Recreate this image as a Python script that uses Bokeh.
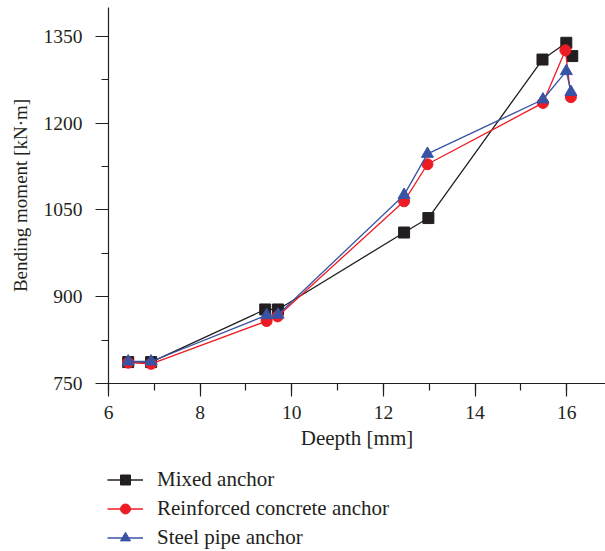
from bokeh.plotting import figure
from bokeh.layouts import column
from bokeh.models import Legend, LegendItem, SingleIntervalTicker, Range1d
from bokeh.embed import file_html
from bokeh.resources import INLINE

# Bending moment vs. depth for three anchor types
depth_mixed = [6.43, 6.93, 9.42, 9.70, 12.45, 12.98, 15.47, 15.99, 16.12]
moment_mixed = [787, 787, 878, 878, 1011, 1036, 1310, 1339, 1316]

depth_rc = [6.43, 6.93, 9.45, 9.69, 12.45, 12.96, 15.48, 15.97, 16.09]
moment_rc = [786, 784, 858, 866, 1065, 1129, 1235, 1326, 1245]

depth_steel = [6.43, 6.93, 9.45, 9.70, 12.45, 12.96, 15.48, 15.99, 16.09]
moment_steel = [788, 788, 868, 869, 1076, 1147, 1241, 1290, 1254]

series_names = ["Mixed anchor", "Reinforced concrete anchor", "Steel pipe anchor"]

FONT = "Liberation Serif"
INK = "#231f20"
COLORS = ["#231f20", "#ed1c24", "#3953a4"]
MARKERS = ["square", "circle", "triangle"]
SIZES = [11, 11, 12]

p = figure(frame_width=497, frame_height=376, output_backend="svg", toolbar_location=None,
           x_range=Range1d(6, 16.845), y_range=Range1d(750, 1400),
           min_border_left=108, min_border_right=0, min_border_top=7,
           min_border_bottom=72)
p.outline_line_color = None
p.xgrid.visible = False
p.ygrid.visible = False

for ax in (p.xaxis[0], p.yaxis[0]):
    ax.axis_line_color = INK
    ax.major_tick_line_color = INK
    ax.minor_tick_line_color = INK
    ax.axis_line_width = 1.2
    ax.major_tick_line_width = 1.2
    ax.minor_tick_line_width = 1.2
    ax.major_tick_in = 0
    ax.major_tick_out = 13
    ax.minor_tick_in = 0
    ax.minor_tick_out = 7
    ax.major_label_text_font = FONT
    ax.major_label_text_font_size = "19.5px"
    ax.major_label_text_color = INK
    ax.axis_label_text_font = FONT
    ax.axis_label_text_font_style = "normal"
    ax.axis_label_text_color = INK

p.xaxis.axis_label_text_font_size = "21px"
p.yaxis.axis_label_text_font_size = "19px"
p.xaxis.ticker = SingleIntervalTicker(interval=2, num_minor_ticks=2)
p.yaxis.ticker = SingleIntervalTicker(interval=150, num_minor_ticks=2)
p.xaxis.axis_label = "Deepth [mm]"
p.yaxis.axis_label = "Bending moment [kN·m]"
p.xaxis.major_label_standoff = 9
p.yaxis.major_label_standoff = 13
p.xaxis.axis_label_standoff = 4
p.yaxis.axis_label_standoff = 10

series = [(depth_mixed, moment_mixed), (depth_rc, moment_rc), (depth_steel, moment_steel)]
for (xs, ys), c, mk, sz in zip(series, COLORS, MARKERS, SIZES):
    p.line(xs, ys, color=c, line_width=1.3)
    p.scatter(xs, ys, marker=mk, size=sz, fill_color=c, line_color=c)

# legend strip underneath the chart; its handles reuse the series,
# which fall outside this strip's own (unit) ranges and so stay hidden
leg = figure(frame_width=605, frame_height=96, output_backend="svg", toolbar_location=None,
             x_range=Range1d(0, 1), y_range=Range1d(0, 1), min_border=0)
leg.outline_line_color = None
leg.axis.visible = False
leg.xgrid.visible = False
leg.ygrid.visible = False

items = []
for name, (xs, ys), c, mk in zip(series_names, series, COLORS, MARKERS):
    ln = leg.line(xs, ys, color=c, line_width=1.3)
    sc = leg.scatter(xs, ys, marker=mk, fill_color=c, line_color=c)
    items.append(LegendItem(label=name, renderers=[ln, sc]))

legend = Legend(items=items, location=(107, 1), orientation="vertical")
legend.label_text_font = FONT
legend.label_text_font_size = "21px"
legend.label_text_color = INK
legend.glyph_width = 36
legend.glyph_height = 25
legend.label_height = 25
legend.label_standoff = 14
legend.spacing = 4
legend.padding = 0
legend.margin = 0
legend.border_line_color = None
legend.background_fill_alpha = 0
leg.add_layout(legend, "center")

layout = column(p, leg, spacing=0)
open("out.html", "w").write(file_html(layout, INLINE))
